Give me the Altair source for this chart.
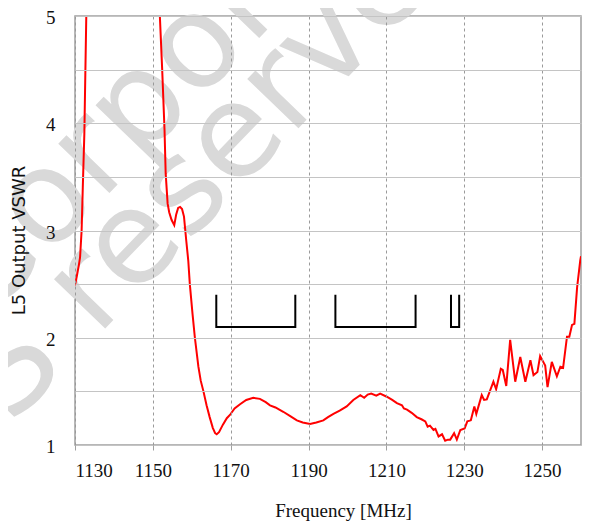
import altair as alt
import pandas as pd

# ---- data ----
freq = [1130.0, 1130.5, 1131.0, 1131.3, 1131.7, 1132.0, 1132.4, 1132.9, 1133.3,
        1151.4, 1151.8, 1152.4, 1153.0, 1153.3, 1153.8, 1154.2, 1154.8, 1155.5,
        1156.0, 1156.5, 1157.0, 1157.5, 1158.0, 1158.6, 1159.1, 1159.5, 1160.2,
        1160.8, 1161.7, 1162.3, 1163.0, 1163.8, 1164.6, 1165.4, 1166.0, 1166.4,
        1167.0, 1168.0, 1169.0, 1169.8, 1171.0, 1172.4, 1174.0, 1175.8, 1177.5,
        1179.0, 1180.1, 1181.5, 1183.5, 1185.3, 1187.0, 1188.5, 1190.4, 1192.0,
        1193.8, 1195.0, 1196.4, 1198.0, 1199.8, 1201.5, 1203.3, 1204.3, 1205.2,
        1206.1, 1207.4, 1208.4, 1210.1, 1211.5, 1212.7, 1214.0, 1214.5, 1215.3,
        1216.5, 1217.8, 1219.0, 1220.0, 1220.6, 1221.2, 1222.1, 1222.6, 1223.4,
        1224.3, 1225.1, 1225.8, 1226.4, 1227.4, 1228.1, 1229.0, 1230.1, 1230.8,
        1231.7, 1232.6, 1233.1, 1234.5, 1235.1, 1235.8, 1237.5, 1238.2, 1239.4,
        1239.9, 1240.8, 1241.8, 1243.1, 1244.4, 1245.7, 1247.0, 1247.8, 1248.8,
        1249.5, 1250.8, 1251.4, 1252.5, 1253.8, 1254.7, 1255.4, 1256.4, 1257.0,
        1257.7, 1258.3, 1259.0, 1259.8, 1260.0]
vswr = [2.49, 2.58, 2.68, 2.75, 3.00, 3.40, 3.90, 5.00, 5.80,
        5.80, 5.00, 4.50, 3.94, 3.53, 3.25, 3.17, 3.10, 3.05,
        3.15, 3.21, 3.22, 3.20, 3.13, 2.90, 2.72, 2.50, 2.22,
        2.00, 1.73, 1.60, 1.50, 1.37, 1.26, 1.16, 1.11, 1.10,
        1.12, 1.19, 1.25, 1.28, 1.34, 1.38, 1.42, 1.44, 1.43,
        1.40, 1.37, 1.35, 1.31, 1.27, 1.23, 1.21, 1.195, 1.21,
        1.23, 1.26, 1.29, 1.32, 1.36, 1.42, 1.465, 1.44, 1.47,
        1.48, 1.46, 1.48, 1.45, 1.42, 1.39, 1.37, 1.34, 1.33,
        1.30, 1.26, 1.24, 1.22, 1.17, 1.18, 1.14, 1.15, 1.08,
        1.10, 1.04, 1.05, 1.05, 1.11, 1.05, 1.14, 1.155, 1.22,
        1.23, 1.36, 1.29, 1.465, 1.42, 1.425, 1.59, 1.52, 1.71,
        1.70, 1.55, 1.98, 1.59, 1.82, 1.59, 1.79, 1.65, 1.68,
        1.83, 1.74, 1.54, 1.775, 1.64, 1.73, 1.72, 2.01, 2.01,
        2.12, 2.13, 2.47, 2.72, 2.76]

band_lo = [1166.3, 1196.9, 1226.6]
band_hi = [1186.6, 1217.5, 1228.7]
band_top = 2.40
band_bottom = 2.10

x_grid = list(range(1130, 1261, 10))
y_grid = [1, 1.5, 2, 2.5, 3, 3.5, 4, 4.5, 5]

watermark_lines = ["Corporation", "S reserved"]

# ---- tables ----
curve = pd.DataFrame({"f": freq, "v": vswr})

rows = []
for i, (lo, hi) in enumerate(zip(band_lo, band_hi)):
    pts = [(lo, band_top), (lo, band_bottom), (hi, band_bottom), (hi, band_top)]
    for k, (fx, vy) in enumerate(pts):
        rows.append({"band": i, "k": k, "f": fx, "v": vy})
bands = pd.DataFrame(rows)

NARROW = "Liberation Sans Narrow"

xscale = alt.Scale(domain=[1130, 1260], nice=False, zero=False)
yscale = alt.Scale(domain=[1, 5], nice=False, zero=False)

label_test = "(datum.value - 1130) % 20 == 0"
x_axis = alt.Axis(
    values=x_grid, format="d",
    labelExpr=f"{label_test} ? datum.label : ''",
    grid=True,
    gridColor={"condition": {"test": label_test, "value": "#9a9a9a"}, "value": "#c8c8c8"},
    gridDash={"condition": {"test": label_test, "value": [3, 3]}, "value": [1, 2]},
    gridWidth=1,
    tickSize=5, tickColor="#a0a0a0", domain=False,
    labelFont=NARROW, labelFontSize=19, labelColor="#111111", labelPadding=11,
    labelOverlap=False,
    title="Frequency [MHz]", titleFont=NARROW, titleFontSize=19,
    titleFontWeight="normal", titleColor="#111111", titlePadding=21, titleX=268,
    zindex=1,
)
y_axis = alt.Axis(
    values=y_grid,
    labelExpr="datum.value % 1 == 0 ? format(datum.value, 'd') : ''",
    grid=True, gridColor="#c4c4c4", gridWidth=1,
    ticks=False, domain=False,
    labelFont=NARROW, labelFontSize=19, labelColor="#111111", labelPadding=20,
    labelOffset=1.5,
    title="L5 Output VSWR", titleFont="DejaVu Sans", titleFontSize=18,
    titleFontWeight="normal", titleColor="#111111", titlePadding=17, titleY=224,
    zindex=1,
)

base = alt.Chart(curve)

wm_style = dict(font="DejaVu Sans", fontSize=130, color="#d9d9d9", angle=314,
                align="left", baseline="alphabetic")

wm1 = alt.Chart(pd.DataFrame({"t": [watermark_lines[0]]})).mark_text(**wm_style).encode(
    text="t:N", x=alt.value(-92), y=alt.value(308))

wm2 = alt.Chart(pd.DataFrame({"t": [watermark_lines[1]]})).mark_text(**wm_style).encode(
    text="t:N", x=alt.value(-64), y=alt.value(410))

line = base.mark_line(color="#ff0000", strokeWidth=2, clip=True).encode(
    x=alt.X("f:Q", scale=xscale, axis=x_axis),
    y=alt.Y("v:Q", scale=yscale, axis=y_axis),
)

brackets = alt.Chart(bands).mark_line(color="#000000", strokeWidth=2).encode(
    x=alt.X("f:Q", scale=xscale),
    y=alt.Y("v:Q", scale=yscale),
    detail="band:N",
    order="k:Q",
)

chart = alt.layer(wm1, wm2, line, brackets).properties(
    width=506, height=429,
    autosize=alt.AutoSizeParams(type="none"),
    padding={"left": 67, "top": 8, "right": 3, "bottom": 80},
).configure_view(stroke="#a0a0a0", strokeWidth=1.5)

chart.save("out.html", embed_options={"renderer": "svg", "actions": False})
